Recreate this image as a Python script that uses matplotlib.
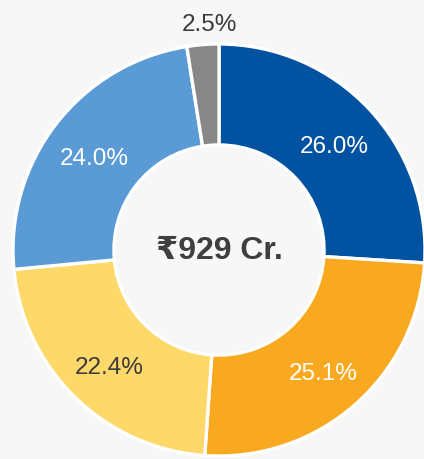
import matplotlib.pyplot as plt
from matplotlib import font_manager
import numpy as np

shares = [26.0, 25.1, 22.4, 24.0, 2.5]
colors = ["#0152A1", "#F8A91F", "#FED869", "#5B9BD5", "#878787"]
label_colors = ["white", "white", "#3A3A3A", "white", "#3A3A3A"]
label_radius = [0.765, 0.765, 0.765, 0.765, 1.12]
center_text = "\u20b9929 Cr."

bg = "#F7F7F7"
installed = {f.name for f in font_manager.fontManager.ttflist}
if "Liberation Sans Narrow" in installed:
    narrow = ["Liberation Sans Narrow", "DejaVu Sans"]
    lab_size, mid_size = 16.5, 26
else:
    narrow = ["Liberation Sans", "DejaVu Sans"]
    lab_size, mid_size = 17.5, 23

fig = plt.figure(figsize=(4.24, 4.60), dpi=100, facecolor=bg)
ax = fig.add_axes([0, 0, 1, 1])
ax.set_facecolor(bg)

wedges, _ = ax.pie(shares, colors=colors, startangle=90, counterclock=False,
                   radius=1.0,
                   wedgeprops=dict(width=0.49, edgecolor="white", linewidth=2.4))

R = 206.0
ax.set_xlim(-219 / R, (424 - 219) / R)
ax.set_ylim(-(460 - 251) / R, 251 / R)
ax.set_aspect("equal")
ax.axis("off")

for w, val, col, r in zip(wedges, shares, label_colors, label_radius):
    ang = np.deg2rad((w.theta1 + w.theta2) / 2)
    x, y = r * np.cos(ang), r * np.sin(ang) - 0.02
    if r > 1:
        # outside label sits nearly straight above the thin slice
        x += 0.04
    ax.text(x, y, f"{val:.1f}%", ha="center", va="center", color=col,
            fontsize=lab_size, family=narrow)

ax.text(0, 0.0, center_text, ha="center", va="center", color="#3F3F3F",
        fontsize=mid_size, fontweight="bold", family=narrow)

fig.savefig("out.png", dpi=100, facecolor=bg)
